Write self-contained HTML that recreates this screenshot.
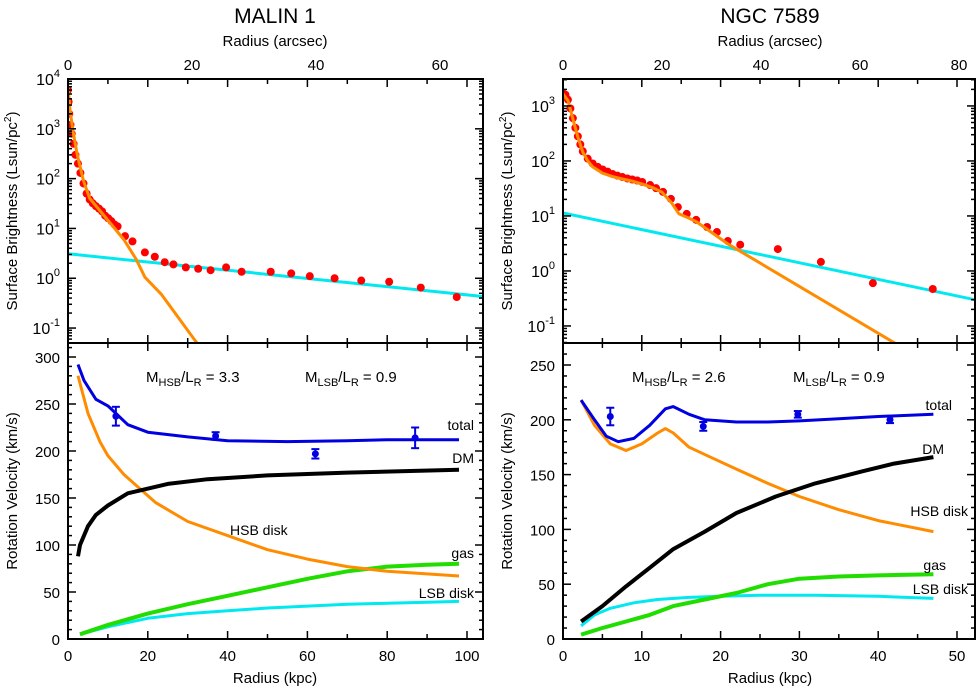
<!DOCTYPE html>
<html><head><meta charset="utf-8"><style>
body{margin:0;background:#fff;width:978px;height:690px;overflow:hidden}
svg{font-family:"Liberation Sans",Arial,sans-serif}
</style></head><body>
<svg id="c" width="978" height="690"></svg>
<script>
// ===== Data =====
const m1SbR=[0,0.1,0.2,0.4,0.6,0.9,1.2,1.6,2,2.5,3,3.5,4,4.5,5,5.5,6,6.5,7,7.5,8,9.2,10.4,12.4,14,15.6,17,19,21,23,25.5,28,32.7,36,39,43,47.3,51.8,56.9,62.7];
const m1SbV=[6000,3500,2000,1200,800,500,300,200,130,80,50,38,32,28,25,22,18,16,14,12,11,7,5.5,3.3,2.7,2.1,1.9,1.65,1.55,1.45,1.65,1.35,1.35,1.25,1.1,1.0,0.9,0.85,0.65,0.42];
const m1BulR=[0,0.3,0.8,1.5,2.5,3.5,5,6,7,9,11,12.4,15.1,20.8,22];
const m1BulV=[7000,2500,900,300,90,40,24,17,12,6,2.4,1.05,0.47,0.05,0.035];
const m1DiskR=[0,66.9];
const m1DiskV=[3.1,0.43];
const n7SbR=[0,0.5,1,1.5,2,2.5,3,3.5,4,5,6,7,8,9,10,11,12,13,14,15,16,17.6,18.8,20.2,21.8,23.2,25,26.9,29.1,31.1,33.3,35.8,43.4,52.1,62.6,74.7];
const n7SbV=[1700,1600,1300,900,600,400,280,200,150,110,90,78,70,64,58,54,51,48,46,44,41.5,36.5,32,27.4,20.4,14.5,10.9,8.5,6.3,5.1,3.5,3.0,2.5,1.46,0.6,0.47];
const n7BulR=[0,1,2,3,4,5,6,8,10,12,14,16,18,20,22,23.4,25,27,33.3,67,70];
const n7BulV=[1650,1250,580,270,145,100,78,60,52,47,43,38,33,27,17,11,9.5,7.8,3.1,0.049,0.035];
const n7DiskR=[0,83.2];
const n7DiskV=[11.3,0.3];
const m1TotR=[2.5,4,7,10,12,15,20,30,40,55,70,80,98];
const m1TotV=[292,275,255,248,240,228,220,215,211,210,211,212,212];
const m1ObsR=[12,37,62,87];
const m1ObsV=[237,216,197,214];
const m1ObsE=[10,4,5,11];
const m1DmR=[2.5,3,5,7,10,15,25,35,50,70,98];
const m1DmV=[88,100,120,132,142,155,165,170,174,177,180];
const m1HsbR=[2.5,5,8,10,14,18,22,30,40,50,60,70,80,98];
const m1HsbV=[280,240,210,195,175,160,145,125,110,95,85,77,72,67];
const m1GasR=[3,10,20,30,40,50,60,70,80,90,98];
const m1GasV=[5,15,27,37,46,55,64,72,77,79,80];
const m1LsbR=[3,10,20,30,40,50,60,70,80,90,98];
const m1LsbV=[5,13,22,27,30,33,35,37,38,39,40];
const n7TotR=[2.3,4,5.5,7,9,11,13,14,16,18,22,26,30,35,40,47];
const n7TotV=[218,200,185,180,183,195,210,212,205,200,198,198,199,201,203,205];
const n7ObsR=[6,17.8,29.8,41.5];
const n7ObsV=[203,194,205,200];
const n7ObsE=[8,4,3,3];
const n7HsbR=[2.3,4,6,8,10,12,13,14,16,19,22,26,30,35,40,47];
const n7HsbV=[218,195,178,172,178,188,192,188,175,165,155,142,130,118,108,98];
const n7DmR=[2.3,5,8,11,14,18,22,27,32,38,42,47];
const n7DmV=[16,30,48,65,82,98,115,130,142,153,160,166];
const n7GasR=[2.3,5,8,11,14,18,22,26,30,35,40,47];
const n7GasV=[4,10,16,22,30,36,42,50,55,57,58,59];
const n7LsbR=[2.3,4,6,9,12,16,20,25,32,40,47];
const n7LsbV=[12,22,28,33,36,38,39,40,40,39,37];

const NS="http://www.w3.org/2000/svg";
const svg=document.getElementById('c');
function mk(tag,at,parent){const e=document.createElementNS(NS,tag);for(const k in at)e.setAttribute(k,at[k]);(parent||svg).appendChild(e);return e;}
function txt(x,y,s,size,anchor,name,parent){const t=mk('text',{x:x,y:y,'font-size':size,'text-anchor':anchor||'middle',fill:'#000'},parent);t.textContent=s;


return t;}

function panel(o){
  const g=mk('g',{});
  
  
  const clipId=o.name+'-clip';
  const cp=mk('clipPath',{id:clipId},g);mk('rect',{x:o.x0,y:o.y0,width:o.x1-o.x0,height:o.y1-o.y0},cp);
  const sx=v=>o.x0+(v-o.xmin)/(o.xmax-o.xmin)*(o.x1-o.x0);
  const sy=o.log?(v=>o.y1-(Math.log10(v)-o.ymin)/(o.ymax-o.ymin)*(o.y1-o.y0)):(v=>o.y1-(v-o.ymin)/(o.ymax-o.ymin)*(o.y1-o.y0));
  return {g,sx,sy,clip:'url(#'+clipId+')',o};
}
function line(P,xs,ys,color,w,name){
  const d=xs.map((x,i)=>(i?'L':'M')+P.sx(x).toFixed(1)+','+P.sy(ys[i]).toFixed(1)).join('');
  const p=mk('path',{d:d,fill:'none',stroke:color,'stroke-width':w,'stroke-linejoin':'round','clip-path':P.clip},P.g);
  
  
}
function dots(P,xs,ys,name){
  xs.forEach((x,i)=>{const c=mk('circle',{cx:P.sx(x),cy:P.sy(ys[i]),r:4,fill:'#f00','clip-path':P.clip},P.g);
  
  });
}
function errs(P,xs,ys,es,name){
  xs.forEach((x,i)=>{const X=P.sx(x),a=P.sy(ys[i]-es[i]),b=P.sy(ys[i]+es[i]);
  const g=mk('g',{stroke:'#0000e0','stroke-width':2},P.g);
  
  
  mk('line',{x1:X,y1:a,x2:X,y2:b},g);mk('line',{x1:X-4,y1:a,x2:X+4,y2:a},g);mk('line',{x1:X-4,y1:b,x2:X+4,y2:b},g);
  mk('circle',{cx:X,cy:P.sy(ys[i]),r:3.5,fill:'#0000e0',stroke:'none'},g);});
}
function frame(x0,y0,x1,y1){mk('rect',{x:x0,y:y0,width:x1-x0,height:y1-y0,fill:'none',stroke:'#000','stroke-width':2});}
function tick(x1,y1,x2,y2){mk('line',{x1,y1,x2,y2,stroke:'#000','stroke-width':1.5});}

function xTicks(x0,x1,yTop,yBot,kpcPx,kmax,step,labelBottom){
  for(let k=0;k<=kmax;k+=step/2){const X=x0+k*kpcPx;if(X>x1-1)break;const L=(k%step===0)?8:5;
    tick(X,yBot,X,yBot-L);tick(X,yTop,X,yTop+L);
    if(labelBottom&&k%step===0)txt(X,yBot+22,String(k),15,'middle','x-tick-label');}
}
function arcTicks(x0,x1,y,px,step,max){for(let a=0;a<=max;a+=step){const X=x0+a*px;txt(X,y,String(a),15,'middle','arcsec-tick-label');}}
function logY(P,x0,x1){
  const o=P.o;
  for(let e=Math.floor(o.ymin);e<=Math.ceil(o.ymax);e++){
    for(let m=1;m<10;m++){const v=m*Math.pow(10,e);const lv=Math.log10(v);if(lv<o.ymin||lv>o.ymax)continue;
      const Y=P.sy(v);const L=m===1?8:4;tick(x0,Y,x0+L,Y);tick(x1,Y,x1-L,Y);}
    if(e>=o.ymin&&e<=o.ymax){const Y=P.sy(Math.pow(10,e));
      const t=mk('text',{x:x0-8,y:Y+6,'font-size':16,'text-anchor':'end'});
      
      
      t.textContent='10';const s=mk('tspan',{dy:-8,'font-size':11},t);s.textContent=String(e);}
  }
}
function linY(P,x0,x1,max,step){
  for(let v=0;v<=max+step;v+=step/5){const Y=P.sy(v);if(Y<P.o.y0+1)break;const maj=Math.abs(v/step-Math.round(v/step))<1e-6;
    tick(x0,Y,x0+(maj?8:4),Y);tick(x1,Y,x1-(maj?8:4),Y);
    if(maj)txt(x0-8,Y+6,String(Math.round(v)),15,'end','y-tick-label');}
}

// ===== MALIN 1 =====
const LX0=68,LX1=483,TY0=79,MID=343,BY1=639;
const A=panel({name:'malin1-sb-panel',x0:LX0,x1:LX1,y0:TY0,y1:MID,xmin:0,xmax:(LX1-LX0)/6.2,log:true,ymin:-1.3,ymax:4.0});
line(A,m1DiskR,m1DiskV,'#00e8f0',3,'lsb-disk-fit');
dots(A,m1SbR,m1SbV,'sb-data-points');
line(A,m1BulR,m1BulV,'#ff8c00',3,'hsb-disk-fit');
const B=panel({name:'malin1-rc-panel',x0:LX0,x1:LX1,y0:MID,y1:BY1,xmin:0,xmax:(LX1-LX0)/3.99,log:false,ymin:0,ymax:(BY1-MID)/0.94});
line(B,m1LsbR,m1LsbV,'#00e8f0',3,'lsb-disk-curve');
line(B,m1GasR,m1GasV,'#22dd00',4,'gas-curve');
line(B,m1HsbR,m1HsbV,'#ff8c00',3,'hsb-disk-curve');
line(B,m1DmR,m1DmV,'#000',4,'dm-curve');
line(B,m1TotR,m1TotV,'#0000e0',3,'total-curve');
errs(B,m1ObsR,m1ObsV,m1ObsE,'observed-velocity');
frame(LX0,TY0,LX1,MID);frame(LX0,MID,LX1,BY1);
logY(A,LX0,LX1);linY(B,LX0,LX1,300,50);
xTicks(LX0,LX1,TY0,MID,3.99,110,20,false);xTicks(LX0,LX1,MID,BY1,3.99,110,20,true);
arcTicks(LX0,LX1,70,6.2,20,60);

// ===== NGC 7589 =====
const RX0=563,RX1=975;
const C=panel({name:'ngc7589-sb-panel',x0:RX0,x1:RX1,y0:TY0,y1:MID,xmin:0,xmax:(RX1-RX0)/4.95,log:true,ymin:-1.31,ymax:3.49});
line(C,n7DiskR,n7DiskV,'#00e8f0',3,'lsb-disk-fit');
dots(C,n7SbR,n7SbV,'sb-data-points');
line(C,n7BulR,n7BulV,'#ff8c00',3,'hsb-disk-fit');
const D=panel({name:'ngc7589-rc-panel',x0:RX0,x1:RX1,y0:MID,y1:BY1,xmin:0,xmax:(RX1-RX0)/7.88,log:false,ymin:0,ymax:(BY1-MID)/1.096});
line(D,n7LsbR,n7LsbV,'#00e8f0',3,'lsb-disk-curve');
line(D,n7GasR,n7GasV,'#22dd00',4,'gas-curve');
line(D,n7HsbR,n7HsbV,'#ff8c00',3,'hsb-disk-curve');
line(D,n7DmR,n7DmV,'#000',4,'dm-curve');
line(D,n7TotR,n7TotV,'#0000e0',3,'total-curve');
errs(D,n7ObsR,n7ObsV,n7ObsE,'observed-velocity');
frame(RX0,TY0,RX1,MID);frame(RX0,MID,RX1,BY1);
logY(C,RX0,RX1);linY(D,RX0,RX1,250,50);
xTicks(RX0,RX1,TY0,MID,7.88,60,10,false);xTicks(RX0,RX1,MID,BY1,7.88,60,10,true);
arcTicks(RX0,RX1,70,4.95,20,80);

// titles and labels
txt(275,23,'MALIN 1',21,'middle','malin1-title');
txt(770,23,'NGC 7589',21,'middle','ngc7589-title');
txt(275,46,'Radius (arcsec)',15,'middle','top-x-axis-title');
txt(770,46,'Radius (arcsec)',15,'middle','top-x-axis-title');
txt(275,683,'Radius (kpc)',15,'middle','x-axis-title');
txt(770,683,'Radius (kpc)',15,'middle','x-axis-title');
function vt(x,y,html,name){const t=mk('text',{x:0,y:0,'font-size':15,'text-anchor':'middle',transform:`translate(${x},${y}) rotate(-90)`});


t.innerHTML=html;}
vt(17,211,'Surface Brightness (Lsun/pc<tspan dy="-6" font-size="10">2</tspan><tspan dy="6">)</tspan>','y-axis-title-sb');
vt(512,211,'Surface Brightness (Lsun/pc<tspan dy="-6" font-size="10">2</tspan><tspan dy="6">)</tspan>','y-axis-title-sb');
vt(17,491,'Rotation Velocity (km/s)','y-axis-title-rc');
vt(512,491,'Rotation Velocity (km/s)','y-axis-title-rc');
function ml(x,y,sub,val,name){const t=mk('text',{x:x,y:y,'font-size':15});


t.innerHTML=`M<tspan dy="4" font-size="11">${sub}</tspan><tspan dy="-4">/L</tspan><tspan dy="4" font-size="11">R</tspan><tspan dy="-4"> = ${val}</tspan>`;}
ml(146,382,'HSB','3.3','malin1-hsb-ml');ml(305,382,'LSB','0.9','malin1-lsb-ml');
ml(632,382,'HSB','2.6','ngc7589-hsb-ml');ml(793,382,'LSB','0.9','ngc7589-lsb-ml');
txt(474,430,'total',14,'end','label-total');txt(474,463,'DM',14,'end','label-dm');
txt(230,535,'HSB disk',14,'start','label-hsb-disk');txt(474,558,'gas',14,'end','label-gas');
txt(474,598,'LSB disk',14,'end','label-lsb-disk');
txt(952,410,'total',14,'end','label-total');txt(944,454,'DM',14,'end','label-dm');
txt(968,516,'HSB disk',14,'end','label-hsb-disk');txt(946,570,'gas',14,'end','label-gas');
txt(968,594,'LSB disk',14,'end','label-lsb-disk');
</script>
</body></html>
